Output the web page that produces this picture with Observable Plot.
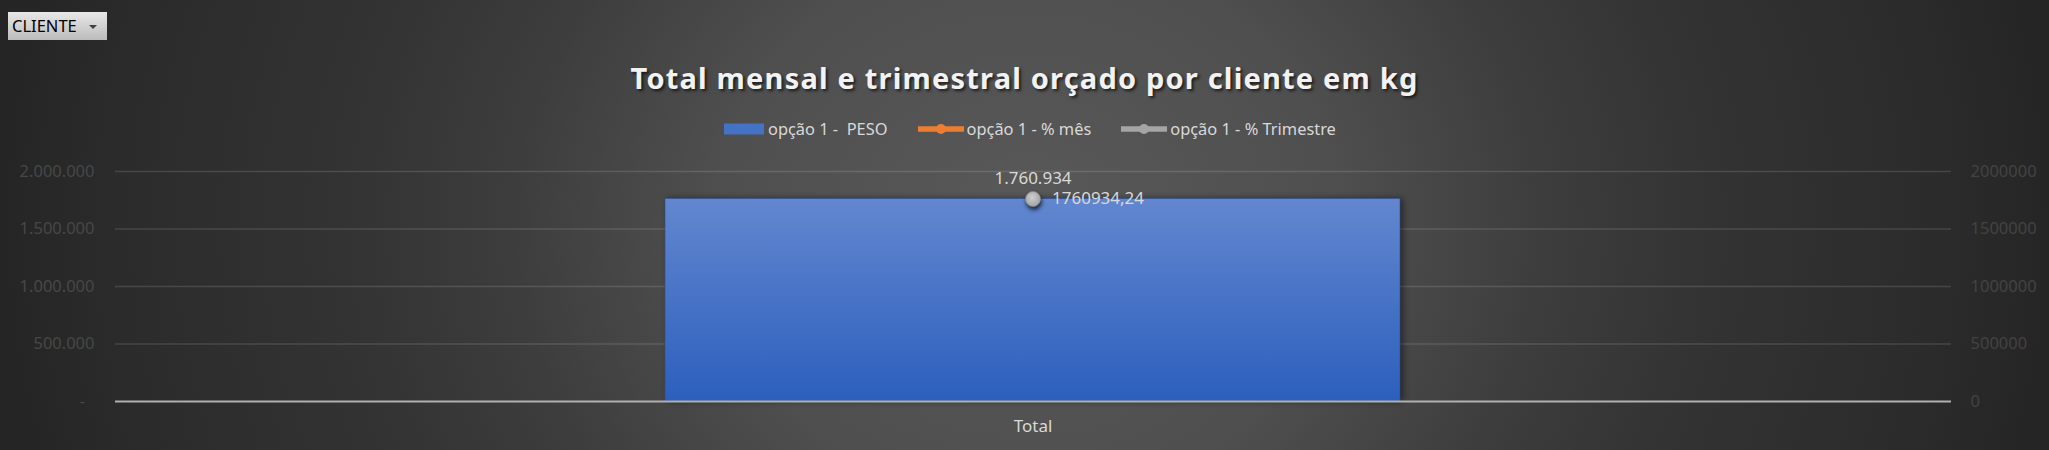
<!DOCTYPE html>
<html>
<head>
<meta charset="utf-8">
<script src="https://cdn.jsdelivr.net/npm/d3@7"></script>
<script src="https://cdn.jsdelivr.net/npm/@observablehq/plot@0.6"></script>
<style>
  html, body { margin: 0; padding: 0; width: 2049px; height: 450px; overflow: hidden; }
  body {
    background: radial-gradient(ellipse 1030px 900px at 1027px 225px,
      #595959 0%, #4f4f4f 30%, #3d3d3d 50%, #333333 66%, #2b2b2b 89%, #252525 100%);
    font-family: "Noto Sans", sans-serif;
  }
  #wrap { position: relative; width: 2049px; height: 450px; }
  #chart { position: absolute; left: 0; top: 0; }
  #title {
    position: absolute; left: 0; width: 2049px; top: 62.5px; text-align: center;
    font-size: 29px; line-height: 29px; font-weight: 700; color: #f2f2f2;
    text-shadow: 2px 2px 3px rgba(0,0,0,0.65); white-space: pre;
  }
  #title span { display: inline-block; }
  #legend {
    position: absolute; left: 724px; top: 118.3px; height: 22px;
    display: flex; align-items: center; font-size: 16.4px; line-height: 22px; color: #d9d9d9;
  }
  .item { display: flex; align-items: center; margin-right: 30px; white-space: pre; }
  .item svg { margin-right: 3px; display: block; }
  #filter {
    position: absolute; left: 8px; top: 12px; width: 99px; height: 28px;
    background: linear-gradient(#e8e8e8, #bcbcbc); box-sizing: border-box;
    font-size: 16.5px; line-height: 28px; padding-left: 4px; color: #000;
  }
  #filter .arrow {
    position: absolute; left: 81px; top: 13px; width: 0; height: 0;
    border-left: 4px solid transparent; border-right: 4px solid transparent; border-top: 4px solid #404040;
  }
</style>
</head>
<body>
<div id="wrap">
  <div id="chart"></div>
  <div id="title"><span></span></div>
  <div id="legend"></div>
  <div id="filter"><span class="lbl"></span><div class="arrow"></div></div>
</div>
<script>
// ---- data ----
const categories = ["Total"];
const pesoValues = [1760934];
const mesValues = [null];
const trimestreValues = [1760934.24];
const yTickValues = [0, 500000, 1000000, 1500000, 2000000];
const leftTickLabels = ["-", "500.000", "1.000.000", "1.500.000", "2.000.000"];
const rightTickLabels = ["0", "500000", "1000000", "1500000", "2000000"];
const seriesNames = ["opção 1 -  PESO", "opção 1 - % mês", "opção 1 - % Trimestre"];
const seriesColors = ["#4472c4", "#ed7d31", "#a5a5a5"];
const titleText = "Total mensal e trimestral orçado por cliente em kg";
const filterLabel = "CLIENTE";

const rows = categories.map((c, i) => ({ cat: c, peso: pesoValues[i], mes: mesValues[i], trimestre: trimestreValues[i] }));

const ptBR = d3.formatLocale({ decimal: ",", thousands: ".", grouping: [3], currency: ["R$ ", ""] });
const fmtPeso = ptBR.format(",.0f");
const fmtTri = ptBR.format(".2f");

const chart = Plot.plot({
  width: 2049, height: 450,
  marginLeft: 115, marginRight: 98, marginTop: 171, marginBottom: 49,
  style: { background: "transparent", color: "#d9d9d9", fontFamily: "'Noto Sans', sans-serif", fontSize: "16.5px", overflow: "visible" },
  x: { domain: categories, padding: 0.428, axis: null },
  y: { domain: [0, 2000000], axis: null },
  marks: [
    Plot.ruleY(yTickValues.filter(d => d > 0), { stroke: "#ffffff", strokeOpacity: 0.13, strokeWidth: 1.5 }),
    Plot.barY(rows, { x: "cat", y: "peso", fill: "url(#barGrad)", stroke: "#2a4f96", strokeWidth: 0.6 }),
    Plot.ruleY([0], { stroke: "#b0b0b0", strokeWidth: 2 }),
    Plot.axisY({ anchor: "left", ticks: yTickValues, tickSize: 0, tickPadding: 21, color: "#474747", label: null,
      tickFormat: d => { const s = leftTickLabels[yTickValues.indexOf(d)]; return d === 0 ? s + "\u2007" : s; } }),
    Plot.axisY({ anchor: "right", ticks: yTickValues, tickSize: 0, tickPadding: 19, color: "#434343", label: null,
      tickFormat: d => rightTickLabels[yTickValues.indexOf(d)] }),
    Plot.axisX({ anchor: "bottom", tickSize: 0, tickPadding: 18, fontSize: 17, color: "#d9d9d9", label: null }),
    Plot.line(rows.filter(d => d.mes != null), { x: "cat", y: "mes", stroke: seriesColors[1], strokeWidth: 3 }),
    Plot.dot(rows, { x: "cat", y: "trimestre", r: 7.5, fill: "url(#dotGrad)", stroke: "#8a8a8a", strokeWidth: 0.8 }),
    Plot.text(rows, { x: "cat", y: "peso", text: d => fmtPeso(d.peso), dy: -20, fontSize: 17, fill: "#d9d9d9" }),
    Plot.text(rows, { x: "cat", y: "trimestre", text: d => fmtTri(d.trimestre), dx: 19, textAnchor: "start", fontSize: 17, fill: "#d9d9d9" })
  ]
});

const svg = d3.select(chart);
const defs = svg.insert("defs", ":first-child");
const bg = defs.append("linearGradient").attr("id", "barGrad").attr("x1", 0).attr("y1", 0).attr("x2", 0).attr("y2", 1);
bg.append("stop").attr("offset", "0%").attr("stop-color", "#6287cf");
bg.append("stop").attr("offset", "100%").attr("stop-color", "#2c5fbd");
const dg = defs.append("radialGradient").attr("id", "dotGrad").attr("cx", "45%").attr("cy", "40%").attr("r", "60%");
dg.append("stop").attr("offset", "0%").attr("stop-color", "#cfcfcf");
dg.append("stop").attr("offset", "100%").attr("stop-color", "#a3a3a3");
svg.selectAll('g[aria-label="bar"] rect').style("filter", "drop-shadow(3px 0px 3px rgba(0,0,0,0.45))");
svg.selectAll('g[aria-label="dot"] circle').style("filter", "drop-shadow(1px 3px 2px rgba(0,0,0,0.7))");
document.getElementById("chart").appendChild(chart);

// ---- title ----
const tspan = document.querySelector("#title span");
tspan.textContent = titleText;
const targetW = 788;
const w0 = tspan.getBoundingClientRect().width;
tspan.style.letterSpacing = ((targetW - w0) / titleText.length) + "px";

// ---- legend ----
const legend = d3.select("#legend");
seriesNames.forEach((name, i) => {
  const it = legend.append("div").attr("class", "item");
  const s = it.append("svg").attr("width", i === 0 ? 41 : 46).attr("height", 14);
  if (i === 0) {
    s.append("rect").attr("x", 0).attr("y", 1.5).attr("width", 40).attr("height", 11).attr("fill", seriesColors[0]);
  } else {
    s.append("line").attr("x1", 0).attr("x2", 45).attr("y1", 7).attr("y2", 7)
      .attr("stroke", seriesColors[i]).attr("stroke-width", 5.5).attr("stroke-linecap", "round");
    s.append("circle").attr("cx", 23).attr("cy", 7).attr("r", 5).attr("fill", seriesColors[i]);
  }
  it.append("span").text(name);
});

document.querySelector("#filter .lbl").textContent = filterLabel;
</script>
</body>
</html>
